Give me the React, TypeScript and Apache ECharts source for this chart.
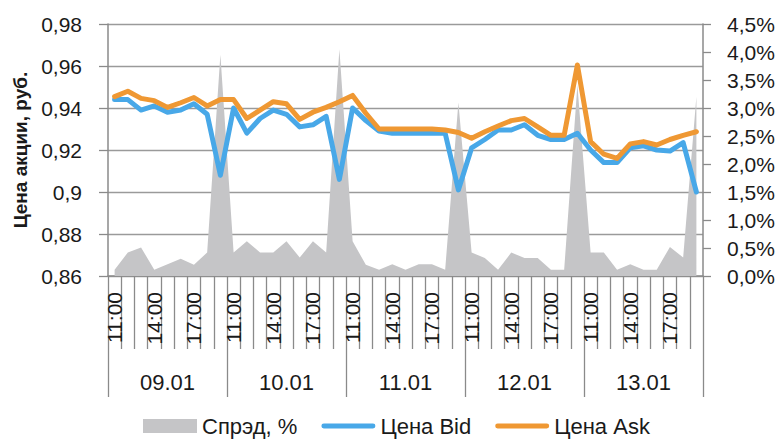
import React, { useEffect, useRef } from "react";
import * as echarts from "echarts";

const days = ["09.01", "10.01", "11.01", "12.01", "13.01"];
const hours = ["11:00", "12:00", "13:00", "14:00", "15:00", "16:00", "17:00", "18:00", "19:00"];
const categories: string[] = days.flatMap(() => hours);

const bid = [
  0.944, 0.944, 0.939, 0.941, 0.938, 0.939, 0.942, 0.937, 0.908,
  0.940, 0.928, 0.935, 0.939, 0.937, 0.931, 0.932, 0.936, 0.906,
  0.940, 0.934, 0.929, 0.928, 0.928, 0.928, 0.928, 0.928, 0.901,
  0.921, 0.925, 0.9295, 0.9295, 0.932, 0.927, 0.925, 0.925, 0.928,
  0.920, 0.914, 0.914, 0.921, 0.922, 0.920, 0.9195, 0.9235, 0.900,
];

const ask = [
  0.9454, 0.948, 0.9446, 0.9435, 0.9403, 0.9425, 0.945, 0.941, 0.944,
  0.944, 0.935, 0.939, 0.943, 0.942, 0.9346, 0.938, 0.9403, 0.943,
  0.946, 0.9375, 0.930, 0.930, 0.930, 0.930, 0.930, 0.9295, 0.9283,
  0.9256, 0.9287, 0.9314, 0.934, 0.935, 0.931, 0.927, 0.927, 0.9605,
  0.924, 0.918, 0.916, 0.9229, 0.924, 0.9224, 0.925, 0.927, 0.9287,
];

const spread = [
  0.11, 0.42, 0.51, 0.11, 0.21, 0.31, 0.2, 0.42, 3.95,
  0.42, 0.62, 0.42, 0.42, 0.62, 0.33, 0.62, 0.42, 4.05,
  0.62, 0.2, 0.11, 0.21, 0.11, 0.21, 0.21, 0.11, 3.1,
  0.42, 0.32, 0.11, 0.42, 0.32, 0.32, 0.11, 0.11, 3.41,
  0.42, 0.42, 0.11, 0.21, 0.11, 0.11, 0.52, 0.33, 3.2,
];

const FONT = "'Liberation Sans', Arial, sans-serif";
const TEXT = "#1a1a1a";
const AXIS = "#8a8a8a";
const GRAY = "#c5c5c7";
const BLUE = "#48a8e8";
const ORANGE = "#ef9833";
const BAR_ICON = "path://M2.5,0 H53.5 A2.5,2.5 0 0 1 53.5,5 H2.5 A2.5,2.5 0 0 1 2.5,0 Z";

export default function App() {
  const ref = useRef<HTMLDivElement>(null);
  useEffect(() => {
    if (!ref.current) return;
    const chart = echarts.init(ref.current, undefined, { renderer: "svg" });
    chart.setOption({
      animation: false,
      textStyle: { fontFamily: FONT },
      grid: { left: 108, right: 75, top: 24, bottom: 163, containLabel: false },
      legend: {
        left: 138,
        top: 410,
        itemWidth: 54,
        itemHeight: 14,
        itemGap: 24,
        symbolKeepAspect: true,
        textStyle: { fontFamily: FONT, fontSize: 22, color: TEXT },
        data: [
          { name: "Спрэд, %", icon: "rect", itemStyle: { color: GRAY } },
          { name: "Цена Bid", icon: BAR_ICON, itemStyle: { color: BLUE } },
          { name: "Цена Ask", icon: BAR_ICON, itemStyle: { color: ORANGE } },
        ],
      },
      xAxis: [
        {
          type: "category",
          data: categories,
          boundaryGap: true,
          position: "bottom",
          axisLine: { show: true, lineStyle: { color: AXIS, width: 1.5 } },
          axisTick: { show: true, interval: 0, length: 73, lineStyle: { color: AXIS, width: 1.3 } },
          axisLabel: {
            interval: 2,
            rotate: 90,
            margin: 16,
            fontFamily: FONT,
            fontSize: 21,
            color: TEXT,
          },
          splitLine: { show: false },
        },
        {
          type: "category",
          data: days,
          boundaryGap: true,
          position: "bottom",
          offset: 73,
          axisLine: { show: false },
          axisTick: { show: true, interval: 0, length: 48, lineStyle: { color: AXIS, width: 1.3 } },
          axisLabel: { interval: 0, margin: 22, fontFamily: FONT, fontSize: 22, color: TEXT },
          splitLine: { show: false },
        },
      ],
      yAxis: [
        {
          type: "value",
          min: 0.86,
          max: 0.98,
          interval: 0.02,
          position: "left",
          name: "Цена акции, руб.",
          nameLocation: "middle",
          nameRotate: 90,
          nameGap: 76,
          nameTextStyle: { fontFamily: FONT, fontSize: 19, fontWeight: "bold", color: TEXT },
          axisLine: { show: true, lineStyle: { color: AXIS, width: 1.5 } },
          axisTick: { show: true, length: 9, lineStyle: { color: AXIS, width: 1.3 } },
          axisLabel: {
            margin: 26,
            fontFamily: FONT,
            fontSize: 21,
            color: TEXT,
            formatter: (v: number) => String(Number(v.toFixed(2))).replace(".", ","),
          },
          splitLine: { show: true, lineStyle: { color: "#9a9a9a", width: 1.3 } },
        },
        {
          type: "value",
          min: 0,
          max: 4.5,
          interval: 0.5,
          position: "right",
          axisLine: { show: true, lineStyle: { color: AXIS, width: 1.5 } },
          axisTick: { show: true, length: 8, lineStyle: { color: AXIS, width: 1.3 } },
          axisLabel: {
            margin: 24,
            fontFamily: FONT,
            fontSize: 21,
            color: TEXT,
            formatter: (v: number) => v.toFixed(1).replace(".", ",") + "%",
          },
          splitLine: { show: false },
        },
      ],
      series: [
        {
          name: "Спрэд, %",
          type: "line",
          xAxisIndex: 0,
          yAxisIndex: 1,
          data: spread,
          symbol: "none",
          lineStyle: { width: 0, color: GRAY },
          itemStyle: { color: GRAY },
          areaStyle: { color: GRAY, opacity: 1 },
          z: 1,
        },
        {
          name: "Цена Bid",
          type: "line",
          xAxisIndex: 0,
          yAxisIndex: 0,
          data: bid,
          symbol: "none",
          lineStyle: { width: 5, color: BLUE, join: "round", cap: "round" },
          itemStyle: { color: BLUE },
          z: 3,
        },
        {
          name: "Цена Ask",
          type: "line",
          xAxisIndex: 0,
          yAxisIndex: 0,
          data: ask,
          symbol: "none",
          lineStyle: { width: 5, color: ORANGE, join: "round", cap: "round" },
          itemStyle: { color: ORANGE },
          z: 4,
        },
      ],
    });
    return () => chart.dispose();
  }, []);
  return (
    <div
      ref={ref}
      style={{ position: "absolute", left: 0, top: 0, width: 778, height: 439 }}
    />
  );
}
